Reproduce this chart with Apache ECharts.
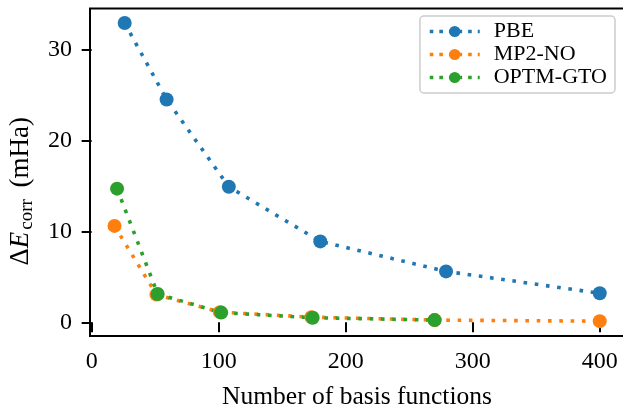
<!DOCTYPE html>
<html>
<head>
<meta charset="utf-8">
<script src="https://cdn.jsdelivr.net/npm/echarts@6/dist/echarts.min.js"></script>
<style>
html,body{margin:0;padding:0;background:#fff;}
#chart{width:623px;height:407px;}
</style>
</head>
<body>
<div id="chart"></div>
<script>
const seriesNames = ['PBE', 'MP2-NO', 'OPTM-GTO'];
const xPBE = [26, 59, 108, 180, 279, 400];
const yPBE = [32.9, 24.5, 14.9, 8.9, 5.6, 3.2];
const xMP2 = [18, 51, 101, 173, 270, 400];
const yMP2 = [10.6, 3.05, 1.12, 0.57, 0.25, 0.13];
const xGTO = [20, 52, 102, 174, 270];
const yGTO = [14.7, 3.12, 1.07, 0.51, 0.25];
const xTicks = [0, 100, 200, 300, 400];
const yTicks = [0, 10, 20, 30];
const colors = ['#1f77b4', '#ff7f0e', '#2ca02c'];

const FONT = '"Liberation Serif", "Times New Roman", serif';

function pairs(xs, ys) { return xs.map((x, i) => [x, ys[i]]); }

function mkSeries(name, xs, ys, color) {
  return {
    name: name,
    type: 'line',
    data: pairs(xs, ys),
    symbol: 'circle',
    symbolSize: 14,
    showSymbol: true,
    itemStyle: { color: color },
    lineStyle: { color: color, width: 3.6, type: [3.6, 7.7], cap: 'butt' },
    emphasis: { disabled: true },
    animation: false
  };
}

const chart = echarts.init(document.getElementById('chart'), null, { renderer: 'canvas' });
chart.setOption({
  animation: false,
  backgroundColor: '#ffffff',
  grid: {
    left: 90, top: 8.5, right: -1, bottom: 71,
    show: true, borderColor: '#000', borderWidth: 2,
    outerBoundsMode: 'none', containLabel: false
  },
  legend: {
    orient: 'vertical',
    right: 8, top: 16,
    data: seriesNames,
    itemWidth: 50, itemHeight: 14,
    itemGap: 0,
    padding: [4, 8, 4, 8],
    backgroundColor: '#ffffff',
    borderColor: '#cccccc', borderWidth: 1.5, borderRadius: 4,
    lineStyle: { width: 3.6, type: [3.6, 6] },
    textStyle: { fontFamily: FONT, fontSize: 22, color: '#000', lineHeight: 23, padding: [0, 0, 0, 9] }
  },
  xAxis: {
    type: 'value',
    min: -1.3, max: 419.1,
    name: 'Number of basis functions',
    nameLocation: 'middle',
    nameGap: 48,
    nameTextStyle: { fontFamily: FONT, fontSize: 25.5, color: '#000' },
    axisLine: { show: false },
    axisTick: { show: true, length: 10, lineStyle: { color: '#000', width: 2 }, customValues: xTicks },
    axisLabel: { fontFamily: FONT, fontSize: 24, color: '#000', margin: 14, customValues: xTicks, showMinLabel: true, showMaxLabel: true },
    splitLine: { show: false }
  },
  yAxis: {
    type: 'value',
    min: -1.5, max: 34.5,
    name: '{t|Δ}{i|E}{s|corr}{t| (mHa)}',
    nameLocation: 'middle',
    nameRotate: 90,
    nameGap: 53,
    nameTextStyle: {
      fontFamily: FONT, fontSize: 27, color: '#000',
      padding: [0, 38, 0, 0],
      rich: {
        t: { fontFamily: FONT, fontSize: 27, color: '#000', lineHeight: 32 },
        i: { fontFamily: FONT, fontSize: 27, fontStyle: 'italic', color: '#000', lineHeight: 32, padding: [0, 1, 0, 0] },
        s: { fontFamily: FONT, fontSize: 19, color: '#000', lineHeight: 15, verticalAlign: 'bottom', padding: [0, 5, 0, 1] }
      }
    },
    axisLine: { show: false },
    axisTick: { show: true, length: 10, lineStyle: { color: '#000', width: 2 }, customValues: yTicks },
    axisLabel: { fontFamily: FONT, fontSize: 24, color: '#000', margin: 18, customValues: yTicks },
    splitLine: { show: false }
  },
  series: [
    mkSeries(seriesNames[0], xPBE, yPBE, colors[0]),
    mkSeries(seriesNames[1], xMP2, yMP2, colors[1]),
    mkSeries(seriesNames[2], xGTO, yGTO, colors[2])
  ]
});
</script>
</body>
</html>
